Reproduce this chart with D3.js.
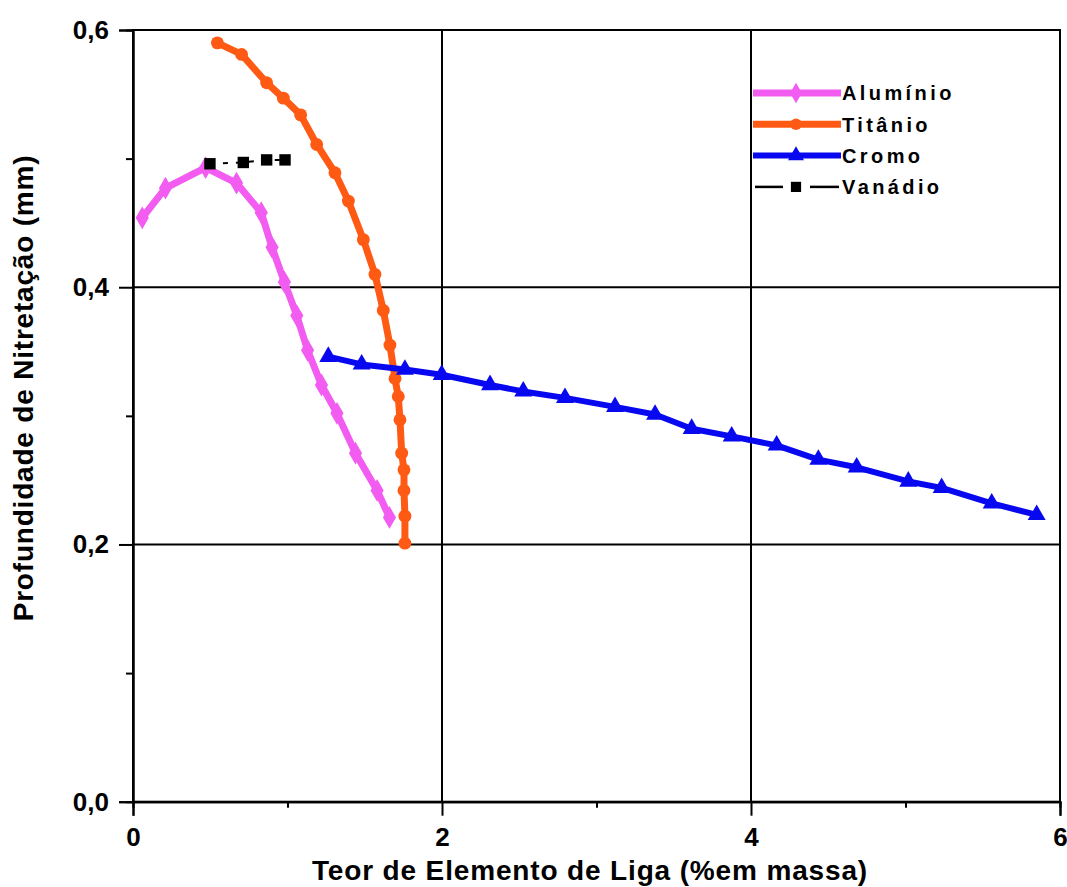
<!DOCTYPE html>
<html>
<head>
<meta charset="utf-8">
<script src="https://cdn.jsdelivr.net/npm/d3@7"></script>
<style>
  body { margin: 0; background: #fff; }
  svg { display: block; font-family: "Liberation Sans", Arial, sans-serif; }
</style>
</head>
<body>
<svg id="chart" width="1067" height="887"></svg>
<script>
// data
var seriesNames = ["Alumínio", "Titânio", "Cromo", "Vanádio"];

var aluX = [0.06, 0.21, 0.47, 0.67, 0.83, 0.90, 0.98, 1.06, 1.13, 1.22, 1.32, 1.44, 1.58, 1.66];
var aluY = [0.454, 0.477, 0.493, 0.481, 0.458, 0.431, 0.404, 0.378, 0.351, 0.324, 0.302, 0.271, 0.242, 0.221];

var tiX = [0.546, 0.703, 0.865, 0.973, 1.085, 1.189, 1.307, 1.394, 1.491, 1.566, 1.620, 1.663, 1.696, 1.717, 1.728, 1.739, 1.754, 1.754, 1.760, 1.760];
var tiY = [0.590, 0.581, 0.559, 0.547, 0.534, 0.511, 0.489, 0.467, 0.437, 0.410, 0.382, 0.355, 0.329, 0.315, 0.297, 0.271, 0.258, 0.242, 0.222, 0.201];

var crX = [1.264, 1.480, 1.760, 1.998, 2.311, 2.526, 2.796, 3.120, 3.379, 3.616, 3.875, 4.166, 4.436, 4.684, 5.018, 5.234, 5.558, 5.849];
var crY = [0.346, 0.340, 0.336, 0.332, 0.324, 0.319, 0.314, 0.307, 0.301, 0.290, 0.284, 0.277, 0.266, 0.260, 0.249, 0.244, 0.232, 0.223];

var vaX = [0.498, 0.714, 0.865, 0.984];
var vaY = [0.496, 0.497, 0.499, 0.499];

var xTicks = [0, 2, 4, 6], xMinor = [1, 3, 5];
var yTicks = [0, 0.2, 0.4, 0.6], yMinor = [0.1, 0.3, 0.5];

var xTitle = "Teor de Elemento de Liga (%em massa)";
var yTitle = "Profundidade de Nitretação (mm)";

var vis = d3.select("#chart"),
    MARGINS = { top: 30, right: 7, bottom: 85, left: 133 },
    WIDTH = 1067, HEIGHT = 887,
    xScale = d3.scaleLinear().domain([0, 6]).range([MARGINS.left, WIDTH - MARGINS.right]),
    yScale = d3.scaleLinear().domain([0, 0.6]).range([HEIGHT - MARGINS.bottom - 0.3, MARGINS.top]),
    commaFmt = function(d) { return d3.format(".1f")(d).replace(".", ","); };

function zip(xs, ys) { return xs.map(function(x, i) { return { x: x, y: ys[i] }; }); }

var series = [
  { name: seriesNames[0], data: zip(aluX, aluY), color: "#f25cf0", width: 7, symbol: d3.symbolDiamond, size: 150, dash: null },
  { name: seriesNames[1], data: zip(tiX, tiY), color: "#ff5a14", width: 7, symbol: d3.symbolCircle, size: 130, dash: null },
  { name: seriesNames[2], data: zip(crX, crY), color: "#0808f0", width: 6, symbol: d3.symbolTriangle, size: 140, dash: null },
  { name: seriesNames[3], data: zip(vaX, vaY), color: "#000", width: 2, symbol: d3.symbolSquare, size: 130, dash: "5,8" }
];

// grid
vis.append("g").selectAll("line").data([2, 4]).enter().append("line")
    .attr("x1", function(d) { return xScale(d); }).attr("x2", function(d) { return xScale(d); })
    .attr("y1", yScale(0)).attr("y2", yScale(0.6))
    .attr("stroke", "#000").attr("stroke-width", 2);
vis.append("g").selectAll("line").data([0.2, 0.4]).enter().append("line")
    .attr("y1", function(d) { return yScale(d); }).attr("y2", function(d) { return yScale(d); })
    .attr("x1", xScale(0)).attr("x2", xScale(6))
    .attr("stroke", "#000").attr("stroke-width", 2);

// frame
vis.append("rect")
    .attr("x", xScale(0)).attr("y", yScale(0.6))
    .attr("width", xScale(6) - xScale(0)).attr("height", yScale(0) - yScale(0.6))
    .attr("fill", "none").attr("stroke", "#000").attr("stroke-width", 2);

// axes
var xAxis = d3.axisBottom(xScale).tickValues(xTicks).tickSize(14).tickPadding(12).tickFormat(d3.format("d")),
    xAxisMinor = d3.axisBottom(xScale).tickValues(xMinor).tickSize(6).tickFormat(""),
    yAxis = d3.axisLeft(yScale).tickValues(yTicks).tickSize(14).tickPadding(10).tickFormat(commaFmt),
    yAxisMinor = d3.axisLeft(yScale).tickValues(yMinor).tickSize(7).tickFormat("");

function styleAxis(g) {
  g.select(".domain").attr("stroke", "#000").attr("stroke-width", 2);
  g.selectAll(".tick line").attr("stroke", "#000").attr("stroke-width", 2);
  g.selectAll(".tick text").attr("fill", "#000")
      .style("font-size", "26px").style("font-weight", "bold")
      .style("font-family", "'Liberation Sans', Arial, sans-serif");
}

vis.append("g").attr("transform", "translate(0," + yScale(0) + ")").call(xAxis).call(styleAxis);
vis.append("g").attr("transform", "translate(0," + yScale(0) + ")").call(xAxisMinor).call(styleAxis);
vis.append("g").attr("transform", "translate(" + xScale(0) + ",0)").call(yAxis).call(styleAxis);
vis.append("g").attr("transform", "translate(" + xScale(0) + ",0)").call(yAxisMinor).call(styleAxis);

// titles
vis.append("text")
    .attr("x", 590).attr("y", 880)
    .attr("text-anchor", "middle")
    .style("font-size", "28px").style("font-weight", "bold")
    .style("letter-spacing", "0.85px")
    .text(xTitle);
vis.append("text")
    .attr("transform", "translate(33,388) rotate(-90)")
    .attr("text-anchor", "middle")
    .style("font-size", "28px").style("font-weight", "bold")
    .style("letter-spacing", "0.8px")
    .text(yTitle);

// lines and markers
var lineGen = d3.line()
    .x(function(d) { return xScale(d.x); })
    .y(function(d) { return yScale(d.y); });

series.forEach(function(s) {
  vis.append("path")
      .attr("d", lineGen(s.data))
      .attr("fill", "none")
      .attr("stroke", s.color)
      .attr("stroke-width", s.width)
      .attr("stroke-dasharray", s.dash)
      .attr("stroke-linejoin", "round");
  vis.append("g").selectAll("path").data(s.data).enter().append("path")
      .attr("d", d3.symbol().type(s.symbol).size(s.size))
      .attr("transform", function(d) { return "translate(" + xScale(d.x) + "," + yScale(d.y) + ")"; })
      .attr("fill", s.color);
});

// legend
var legend = vis.append("g").attr("transform", "translate(753,93)");
series.forEach(function(s, i) {
  var row = legend.append("g").attr("transform", "translate(0," + (i * 31.3) + ")");
  if (s.dash) {
    row.append("line").attr("x1", 2).attr("x2", 30).attr("stroke", "#000").attr("stroke-width", 2.5);
    row.append("line").attr("x1", 57).attr("x2", 86).attr("stroke", "#000").attr("stroke-width", 2.5);
  } else {
    row.append("line").attr("x1", 0).attr("x2", 88).attr("stroke", s.color).attr("stroke-width", s.width);
  }
  row.append("path")
      .attr("d", d3.symbol().type(s.symbol).size(s.size * 0.8))
      .attr("transform", "translate(43,0)")
      .attr("fill", s.color);
  row.append("text")
      .attr("x", 89).attr("y", 0).attr("dy", "0.36em")
      .style("font-size", "20px").style("font-weight", "bold")
      .style("letter-spacing", "3.4px")
      .text(s.name);
});
</script>
</body>
</html>
